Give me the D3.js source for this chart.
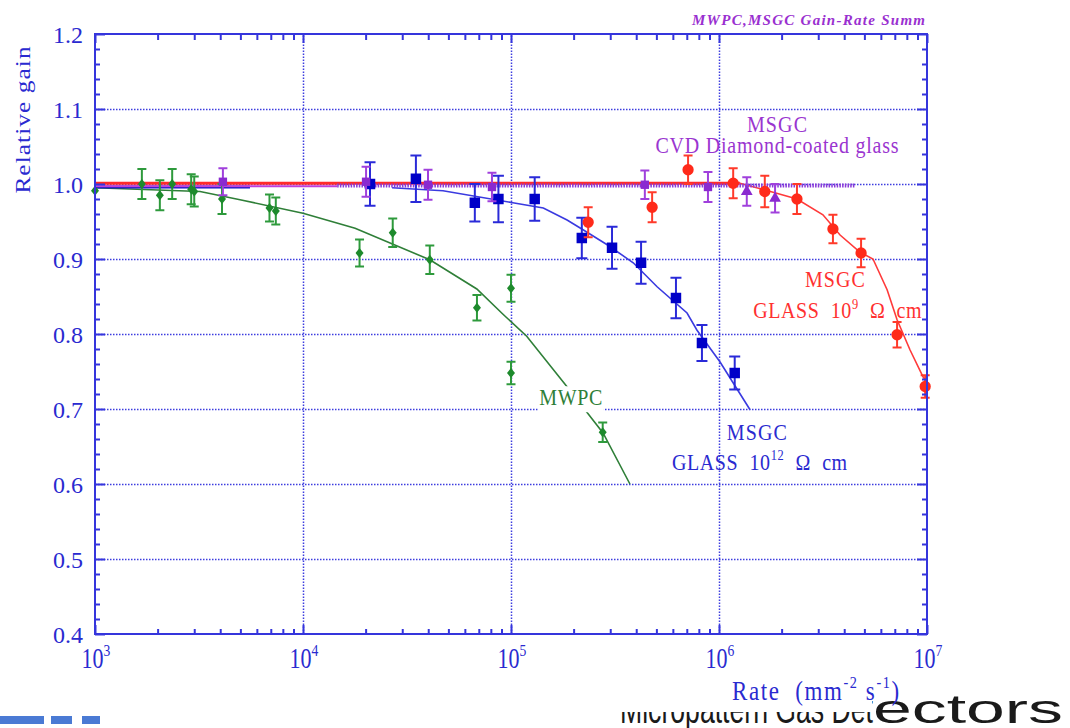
<!DOCTYPE html>
<html>
<head>
<meta charset="utf-8">
<script src="https://cdn.jsdelivr.net/npm/d3@7"></script>
<style>
  body { margin: 0; background: #fff; }
  svg { display: block; }
</style>
</head>
<body>
<script>
// ---- data ----
// MWPC (green diamonds)
const mwpcRate = [1e3, 1.68e3, 2.05e3, 2.35e3, 2.9e3, 3.0e3, 4.08e3, 6.9e3, 7.4e3, 1.87e4, 2.7e4, 4.07e4, 6.86e4, 1e5, 1e5, 2.76e5]
const mwpcGain = [0.991, 1.0, 0.985, 1.0, 0.993, 0.99, 0.98, 0.968, 0.964, 0.908, 0.935, 0.899, 0.835, 0.861, 0.748, 0.669]
const mwpcErr = [0, 0.02, 0.02, 0.02, 0.02, 0.02, 0.02, 0.018, 0.018, 0.018, 0.019, 0.019, 0.017, 0.018, 0.015, 0.013]
const mwpcFitRate = [1e3, 3.2e3, 4.98e3, 1e4, 1.78e4, 4.07e4, 6.85e4, 9.1e4, 1.19e5, 1.88e5, 2.77e5, 3.73e5]
const mwpcFitGain = [0.995, 0.99, 0.979, 0.961, 0.941, 0.899, 0.86, 0.827, 0.797, 0.728, 0.668, 0.6]

// MSGC glass 10^12 ohm cm (blue squares)
const glass12Rate = [2.1e4, 3.49e4, 6.7e4, 8.7e4, 1.3e5, 2.19e5, 3.06e5, 4.22e5, 6.21e5, 8.28e5, 1.19e6]
const glass12Gain = [1.0, 1.007, 0.975, 0.98, 0.98, 0.928, 0.915, 0.895, 0.848, 0.788, 0.748]
const glass12Err = [0.029, 0.031, 0.025, 0.031, 0.029, 0.027, 0.028, 0.028, 0.027, 0.024, 0.022]
const glass12FlatRate = [1e3, 5.56e3]
const glass12FlatGain = [0.996, 0.996]
const glass12FitRate = [2.68e4, 4.71e4, 1.02e5, 1.43e5, 1.86e5, 2.22e5, 2.9e5, 3.87e5, 5.04e5, 7.02e5, 7.84e5, 1.01e6, 1.41e6]
const glass12FitGain = [0.995, 0.991, 0.975, 0.968, 0.952, 0.939, 0.919, 0.895, 0.863, 0.828, 0.805, 0.763, 0.699]

// MSGC glass 10^9 ohm cm (red circles)
const glass9Rate = [2.35e5, 4.77e5, 7.1e5, 1.17e6, 1.66e6, 2.37e6, 3.53e6, 4.82e6, 7.18e6, 9.8e6]
const glass9Gain = [0.949, 0.969, 1.019, 1.001, 0.99, 0.98, 0.94, 0.908, 0.799, 0.73]
const glass9Err = [0.02, 0.02, 0.019, 0.02, 0.021, 0.02, 0.019, 0.019, 0.017, 0.015]
const glass9FlatRate = [1e3, 1.26e6]
const glass9FlatGain = [1.001, 1.001]
const glass9FitRate = [1.26e6, 1.82e6, 2.37e6, 3.16e6, 3.82e6, 4.77e6, 5.5e6, 6.43e6, 7.18e6, 8.28e6, 9.57e6, 1e7]
const glass9FitGain = [1.001, 0.989, 0.98, 0.959, 0.932, 0.909, 0.9, 0.859, 0.819, 0.779, 0.743, 0.735]

// MSGC CVD diamond-coated glass (purple squares, then triangles)
const cvdRate = [4.12e3, 2.01e4, 3.99e4, 8.1e4, 4.4e5, 8.85e5]
const cvdGain = [1.003, 1.003, 0.999, 0.996, 0.999, 0.996]
const cvdErr = [0.018, 0.02, 0.02, 0.019, 0.019, 0.02]
const cvdTriRate = [1.36e6, 1.86e6]
const cvdTriGain = [0.99, 0.981]
const cvdTriErr = [0.019, 0.019]
const cvdFitRate = [1e3, 1.46e4]
const cvdFitGain = [0.997, 0.997]
const cvdHatchRate = [1.46e4, 4.51e6]
const cvdHatchGain = [0.998, 0.998]

// axes
const xMajor = [1e3, 1e4, 1e5, 1e6, 1e7]
const xExp = ['3', '4', '5', '6', '7']
const yMajor = [0.4, 0.5, 0.6, 0.7, 0.8, 0.9, 1.0, 1.1, 1.2]
const yLabels = ['0.4', '0.5', '0.6', '0.7', '0.8', '0.9', '1.0', '1.1', '1.2']

// ---- drawing ----
const W = 1070, H = 728
const pLeft = 95, pRight = 927, pTop = 34, pBottom = 634
const axisBlue = '#3535dc'
const textBlue = '#2a2ad0'
const serif = 'Liberation Serif, Times New Roman, serif'
const nb = '\u00a0'

const svg = d3.select('body').append('svg')
  .attr('width', W)
  .attr('height', H)

// slide footer, mostly hidden behind the chart picture
svg.append('text')
  .attr('x', 620).attr('y', 723)
  .attr('font-family', 'Liberation Sans, Arial, sans-serif')
  .attr('font-size', 40)
  .attr('fill', '#1a1a1a')
  .attr('textLength', 253).attr('lengthAdjust', 'spacingAndGlyphs')
  .text('Micropattern Gas Det')
svg.append('text')
  .attr('x', 873).attr('y', 723)
  .attr('font-family', 'Liberation Sans, Arial, sans-serif')
  .attr('font-size', 40)
  .attr('fill', '#1a1a1a')
  .attr('textLength', 190).attr('lengthAdjust', 'spacingAndGlyphs')
  .text('ectors')
svg.append('rect')
  .attr('x', 0).attr('y', 0)
  .attr('width', 872).attr('height', 712)
  .attr('fill', '#fff')
const blocks = [[0, 44], [51, 72], [82, 100]]
svg.selectAll('rect.block')
  .data(blocks)
  .enter()
  .append('rect')
  .attr('class', 'block')
  .attr('x', d => d[0]).attr('y', 716)
  .attr('width', d => d[1] - d[0]).attr('height', 8)
  .attr('fill', '#4a7ad4')

const x = d3.scaleLog().domain([1e3, 1e7]).range([pLeft, pRight])
const y = d3.scaleLinear().domain([0.4, 1.2]).range([pBottom, pTop])

// grid
const gridStyle = g => g.call(s => s.select('.domain').remove())
  .call(s => s.selectAll('.tick line')
    .attr('stroke', '#3d3ddf')
    .attr('stroke-width', 1.5)
    .attr('stroke-dasharray', '1.5,1.5'))
svg.append('g')
  .attr('transform', 'translate(' + pLeft + ',0)')
  .call(d3.axisLeft(y).tickValues(yMajor.slice(1, -1)).tickSize(-(pRight - pLeft)).tickFormat(''))
  .call(gridStyle)
svg.append('g')
  .attr('transform', 'translate(0,' + pBottom + ')')
  .call(d3.axisBottom(x).tickValues(xMajor.slice(1, -1)).tickSize(-(pBottom - pTop)).tickFormat(''))
  .call(gridStyle)

const zip = (a, b) => a.map((v, i) => [v, b[i]])
const line = d3.line().x(d => x(d[0])).y(d => y(d[1]))

const plot = svg.append('g')

// fitted curves
plot.append('path').datum(zip(mwpcFitRate, mwpcFitGain))
  .attr('d', line).attr('fill', 'none').attr('stroke', '#2f7f38').attr('stroke-width', 1.6)
plot.append('path').datum(zip(glass12FlatRate, glass12FlatGain))
  .attr('d', line).attr('fill', 'none').attr('stroke', '#1010c8').attr('stroke-width', 3)
plot.append('path').datum(zip(glass12FitRate, glass12FitGain))
  .attr('d', line).attr('fill', 'none').attr('stroke', '#3a3ae0').attr('stroke-width', 1.6)
plot.append('path').datum(zip(cvdFitRate, cvdFitGain))
  .attr('d', line).attr('fill', 'none').attr('stroke', '#c040d8').attr('stroke-width', 2)
plot.append('path').datum(zip(glass9FlatRate, glass9FlatGain))
  .attr('d', line).attr('fill', 'none').attr('stroke', '#ff2a2a').attr('stroke-width', 3)
plot.append('path').datum(zip(glass9FitRate, glass9FitGain))
  .attr('d', line).attr('fill', 'none').attr('stroke', '#ff3a3a').attr('stroke-width', 1.6)
plot.append('path').datum(zip(cvdHatchRate, cvdHatchGain))
  .attr('d', line).attr('fill', 'none').attr('stroke', '#8a3ad8').attr('stroke-width', 4)
  .attr('stroke-dasharray', '1.5,1.2')

// text helper, the source font is taller than it is wide
function label(g, px, py, parts, opts) {
  const t = g.append('text')
    .attr('transform', 'translate(' + px + ',' + py + ') scale(1,' + (opts.sy || 1) + ')')
    .attr('font-family', serif)
    .attr('font-size', opts.size)
    .attr('fill', opts.color)
    .attr('text-anchor', opts.anchor || 'start')
    .attr('letter-spacing', opts.ls || 0)
  parts.forEach(p => {
    const sp = t.append('tspan').text(p.t)
    if (p.sup) sp.attr('font-size', opts.size * 0.62).attr('dy', -opts.size * 0.42)
    if (p.down) sp.attr('dy', opts.size * 0.42)
  })
  if (opts.len) t.attr('textLength', opts.len)
  return t
}

// MWPC label with its white box
const lab = svg.append('g')
lab.append('rect')
  .attr('x', x(1.94e5) - 33).attr('y', y(0.705) - 19)
  .attr('width', 66).attr('height', 26)
  .attr('fill', '#fff')
label(lab, x(1.94e5), y(0.705), [{ t: 'MWPC' }], { size: 20, color: '#2f7f38', anchor: 'middle', sy: 1.15, len: 63 })

// error bars and markers
function series(rate, gain, err, color, markColor, capW, mark) {
  const data = rate.map((r, i) => ({ r: r, v: gain[i], e: err[i] }))
  const g = svg.append('g')
  const eb = data.filter(d => d.e > 0)
  g.selectAll('line.bar').data(eb).enter().append('line')
    .attr('x1', d => x(d.r)).attr('x2', d => x(d.r))
    .attr('y1', d => y(d.v - d.e)).attr('y2', d => y(d.v + d.e))
    .attr('stroke', color).attr('stroke-width', 2)
  ;['top', 'bot'].forEach(k => {
    g.selectAll('line.' + k).data(eb).enter().append('line')
      .attr('x1', d => x(d.r) - capW / 2).attr('x2', d => x(d.r) + capW / 2)
      .attr('y1', d => y(k === 'top' ? d.v + d.e : d.v - d.e))
      .attr('y2', d => y(k === 'top' ? d.v + d.e : d.v - d.e))
      .attr('stroke', color).attr('stroke-width', 2)
  })
  g.selectAll('path').data(data).enter().append('path')
    .attr('transform', d => 'translate(' + x(d.r) + ',' + y(d.v) + ')')
    .attr('d', mark)
    .attr('fill', markColor)
}

const diamond = 'M0,-5L4,0L0,5L-4,0Z'
series(mwpcRate, mwpcGain, mwpcErr, '#2e9a3c', '#1d8a2c', 9, diamond)
series(glass12Rate, glass12Gain, glass12Err, '#2a2ad8', '#0000c8', 11, d3.symbol().type(d3.symbolSquare).size(110)())
series(cvdRate, cvdGain, cvdErr, '#a040dc', '#8a2ad0', 9, d3.symbol().type(d3.symbolSquare).size(70)())
series(cvdTriRate, cvdTriGain, cvdTriErr, '#a040dc', '#8a2ad0', 9, d3.symbol().type(d3.symbolTriangle).size(60)())
series(glass9Rate, glass9Gain, glass9Err, '#ff3a2a', '#ff2a1a', 9, d3.symbol().type(d3.symbolCircle).size(100)())

// series labels
label(svg, x(1.9e6), y(1.069), [{ t: 'MSGC' }], { size: 20, color: '#9a35d0', anchor: 'middle', sy: 1.15, len: 60 })
label(svg, x(1.9e6), y(1.041), [{ t: 'CVD Diamond-coated glass' }], { size: 20, color: '#9a35d0', anchor: 'middle', sy: 1.15, len: 243 })
label(svg, x(3.61e6), y(0.863), [{ t: 'MSGC' }], { size: 20, color: '#ff3030', anchor: 'middle', sy: 1.15, len: 60 })
label(svg, x(1.46e6), y(0.821),
  [{ t: 'GLASS' + nb + nb + '10' }, { t: '9', sup: true }, { t: nb + nb + 'Ω' + nb + nb + 'cm', down: true }],
  { size: 20, color: '#ff3030', sy: 1.15, ls: 0.6 })
label(svg, x(1.52e6), y(0.659), [{ t: 'MSGC' }], { size: 20, color: '#2a2ad0', anchor: 'middle', sy: 1.15, len: 60 })
label(svg, x(5.94e5), y(0.619),
  [{ t: 'GLASS' + nb + nb + '10' }, { t: '12', sup: true }, { t: nb + nb + 'Ω' + nb + nb + 'cm', down: true }],
  { size: 20, color: '#2a2ad0', sy: 1.15, ls: 0.6 })

// axes: ticks point inward on all four sides
const yMinor = d3.range(20, 61).map(i => i / 50).filter(v => Math.abs(v * 10 - Math.round(v * 10)) > 1e-6)
const xMinor = []
xMajor.slice(0, -1).forEach(m => d3.range(2, 10).forEach(k => xMinor.push(m * k)))

const axisStyle = g => g.call(s => s.select('.domain').remove())
  .call(s => s.selectAll('.tick line').attr('stroke', axisBlue).attr('stroke-width', 2))

svg.append('g').attr('transform', 'translate(' + pLeft + ',0)')
  .call(d3.axisLeft(y).tickValues(yMinor).tickSize(-5).tickFormat('')).call(axisStyle)
svg.append('g').attr('transform', 'translate(' + pLeft + ',0)')
  .call(d3.axisLeft(y).tickValues(yMajor).tickSize(-10).tickFormat('')).call(axisStyle)
svg.append('g').attr('transform', 'translate(' + pRight + ',0)')
  .call(d3.axisRight(y).tickValues(yMinor).tickSize(-5).tickFormat('')).call(axisStyle)
svg.append('g').attr('transform', 'translate(' + pRight + ',0)')
  .call(d3.axisRight(y).tickValues(yMajor).tickSize(-10).tickFormat('')).call(axisStyle)
svg.append('g').attr('transform', 'translate(0,' + pBottom + ')')
  .call(d3.axisBottom(x).tickValues(xMinor).tickSize(-5).tickFormat('')).call(axisStyle)
svg.append('g').attr('transform', 'translate(0,' + pBottom + ')')
  .call(d3.axisBottom(x).tickValues(xMajor).tickSize(-9).tickFormat('')).call(axisStyle)
svg.append('g').attr('transform', 'translate(0,' + pTop + ')')
  .call(d3.axisTop(x).tickValues(xMinor).tickSize(-6).tickFormat('')).call(axisStyle)
svg.append('g').attr('transform', 'translate(0,' + pTop + ')')
  .call(d3.axisTop(x).tickValues(xMajor).tickSize(-9).tickFormat('')).call(axisStyle)

svg.append('rect')
  .attr('x', pLeft).attr('y', pTop)
  .attr('width', pRight - pLeft).attr('height', pBottom - pTop)
  .attr('fill', 'none').attr('stroke', axisBlue).attr('stroke-width', 2)

// tick labels
yMajor.forEach((v, i) => {
  svg.append('text')
    .attr('x', pLeft - 12).attr('y', y(v) + 8.5)
    .attr('text-anchor', 'end')
    .attr('font-family', serif).attr('font-size', 24)
    .attr('fill', textBlue)
    .text(yLabels[i])
})
xMajor.forEach((v, i) => {
  label(svg, x(v) + 1, 668, [{ t: '10' }, { t: xExp[i], sup: true }], { size: 22, color: textBlue, anchor: 'middle', sy: 1.3 })
})

// axis titles
svg.append('text')
  .attr('transform', 'translate(30,120) rotate(-90) scale(1.15,1)')
  .attr('text-anchor', 'middle')
  .attr('font-family', serif).attr('font-size', 22)
  .attr('fill', textBlue)
  .attr('textLength', 128)
  .text('Relative gain')
label(svg, 732, 700,
  [{ t: 'Rate' + nb + nb + '(mm' }, { t: '-2', sup: true }, { t: nb + 's', down: true }, { t: '-1', sup: true }, { t: ')', down: true }],
  { size: 23, color: textBlue, sy: 1.2, ls: 1.6 })

// title in the top right corner
svg.append('text')
  .attr('x', 692).attr('y', 25)
  .attr('font-family', serif).attr('font-style', 'italic').attr('font-weight', 'bold')
  .attr('font-size', 15)
  .attr('fill', '#9a30d0')
  .attr('textLength', 233)
  .text('MWPC,MSGC Gain-Rate Summ')
</script>
</body>
</html>
